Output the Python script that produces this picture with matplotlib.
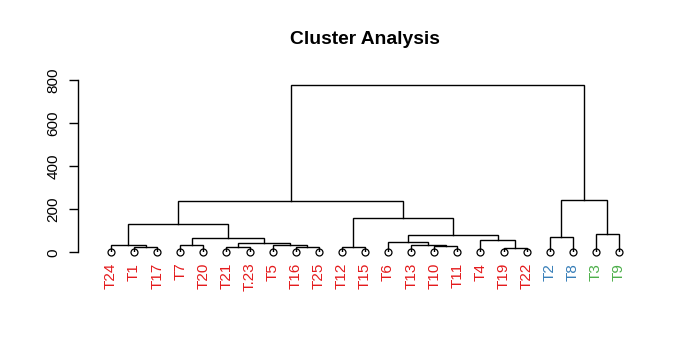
import numpy as np
import matplotlib
matplotlib.use('Agg')
from matplotlib import pyplot as plt

# leaves in the order they are drawn, left to right
labels = ["T24", "T1", "T17", "T7", "T20", "T21", "T.23", "T5", "T16", "T25",
          "T12", "T15", "T6", "T13", "T10", "T11", "T4", "T19", "T22",
          "T2", "T8", "T3", "T9"]
groups = [1] * 19 + [2, 2, 3, 3]
group_colors = {1: "#E41A1C", 2: "#377EB8", 3: "#4DAF4A"}

# R-style merge table: negative = leaf number, positive = earlier merge row
merge_left = [-18, -6, -9, -2, -11, -15, -1, -4, -8, -14, 2, -13, -17, 8, -20, 12, -22, 7, 5, 18, 15, 20]
merge_right = [-19, -7, -10, -3, -12, -16, 4, -5, 3, 6, 9, 10, 1, 11, -21, 13, -23, 14, 16, 19, 17, 21]
heights = [21, 23, 23, 25, 25, 28, 32, 32, 32, 35, 42, 49, 56, 65, 70, 82, 85, 130, 161, 237, 243, 776]

plt.rcParams['font.family'] = ['Liberation Sans', 'DejaVu Sans']

fig = plt.figure(figsize=(6.93, 3.57), dpi=100)
ax = fig.add_axes([78 / 693, 1 - 252.3 / 357, (650 - 78) / 693, 172 / 357])

step = (619 - 111) / 22
ax.set_xlim(1 - (111 - 78) / step, 23 + (650 - 619) / step)
ax.set_ylim(0, 800)

xs, ys = [], []


def node(k):
    if k < 0:
        return -k, 0.0
    return xs[k - 1], ys[k - 1]


for a, b, h in zip(merge_left, merge_right, heights):
    xa, ya = node(a)
    xb, yb = node(b)
    ax.plot([xa, xa, xb, xb], [ya, h, h, yb], color="black", lw=1.0, solid_joinstyle='miter')
    xs.append((xa + xb) / 2)
    ys.append(h)

leaf_x = np.arange(1, len(labels) + 1)
ax.plot(leaf_x, np.zeros(len(labels)), 'o', ms=5, mfc='none', mec='black', mew=0.9, clip_on=False)

for x, lab, g in zip(leaf_x, labels, groups):
    ax.annotate(lab, (x, 0), xytext=(0, -7.5), textcoords='offset points',
                rotation=90, ha='center', va='top', fontsize=11,
                color=group_colors[g], annotation_clip=False)

for side in ['top', 'right', 'bottom']:
    ax.spines[side].set_visible(False)
ax.spines['left'].set_linewidth(1.0)
ax.set_xticks([])
ax.set_yticks([0, 200, 400, 600, 800])
ax.tick_params(axis='y', direction='out', length=6.5, width=1.0, pad=6, labelsize=11)
for t in ax.get_yticklabels():
    t.set_rotation(90)
    t.set_va('center')

fig.text(364.5 / 693, 1 - 40 / 357, "Cluster Analysis", ha='center', va='center',
         fontsize=13.9, fontweight='bold')

fig.savefig("out.png", dpi=100)
